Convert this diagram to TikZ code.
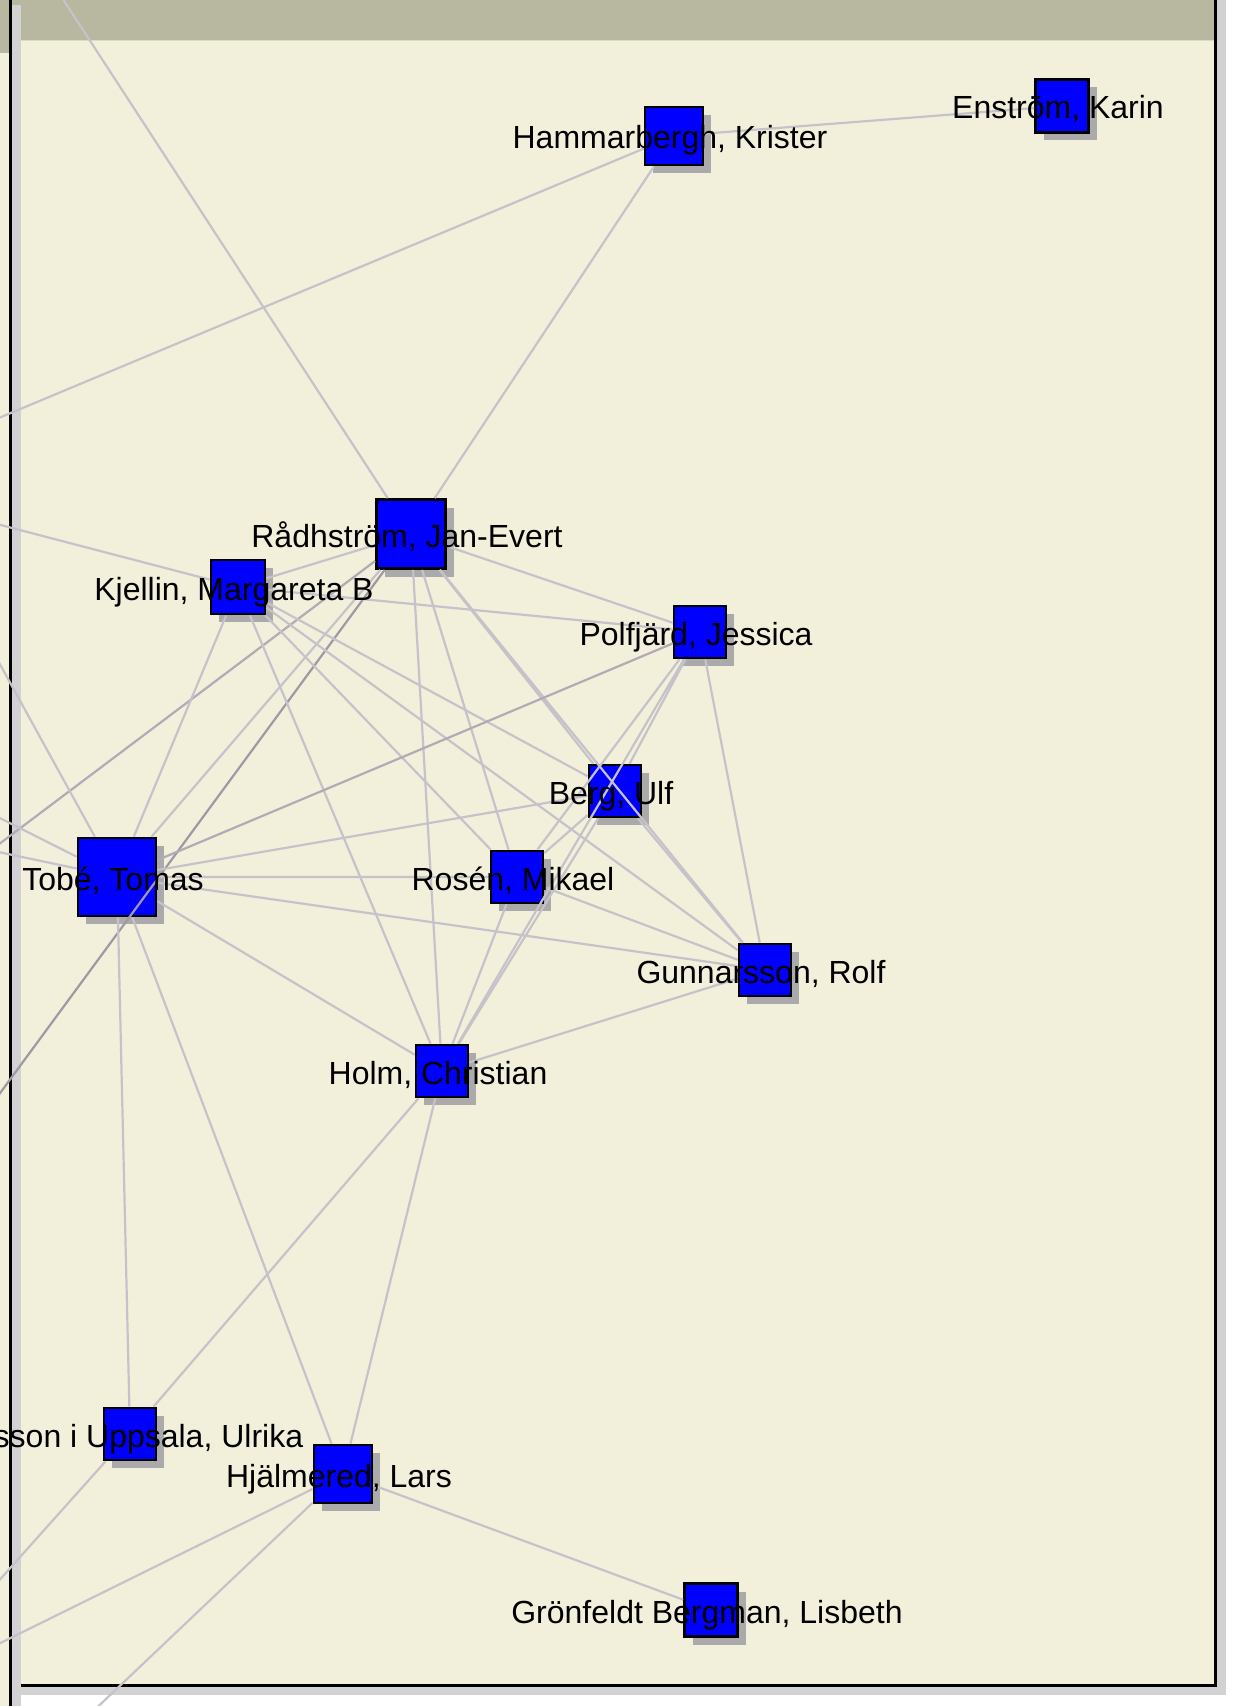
\documentclass[tikz,border=0pt]{standalone}
\usepackage{fontspec}
\setmainfont{Liberation Sans}
\usepackage{xcolor}
\usetikzlibrary{shadows}
\definecolor{panelbg}{HTML}{F2F0DA}
\definecolor{bandbg}{HTML}{B8B8A0}
\definecolor{stripgray}{HTML}{D2D2D2}
\definecolor{nodeblue}{HTML}{0000FF}
\definecolor{shadegray}{HTML}{AAAAAA}
\definecolor{tiegray}{HTML}{C6C2CA}
\definecolor{midtiegray}{HTML}{B2AAB6}
\definecolor{darktiegray}{HTML}{A098A4}

\begin{document}
\begin{tikzpicture}[
    x=0.5pt, y=-0.5pt,
    person/.style={rectangle, draw=black, line width=1.4pt, fill=nodeblue,
        inner sep=0pt, minimum size=26pt,
        general shadow={fill=shadegray, shadow xshift=4pt, shadow yshift=-4pt}},
    tie/.style={draw=tiegray, line width=1.1pt},
    mid tie/.style={draw=midtiegray, line width=1.1pt},
    dark tie/.style={draw=darktiegray, line width=1.1pt},
    nametag/.style={anchor=base, inner sep=0pt, xshift=-2pt, yshift=-6.5pt,
        font=\fontsize{16}{19}\selectfont},
    frame line/.style={black, line width=1.3pt}
    ]
    \useasboundingbox (0,0) rectangle (1236,1706);
    \clip (0,0) rectangle (1236,1706);
    % Window
    \fill[white] (0,0) rectangle (1236,1706);
    \fill[panelbg] (0,0) rectangle (1214,1684);
    \fill[panelbg] (0,0) rectangle (10,1706);
    \fill[bandbg] (0,0) rectangle (1214,40);
    \fill[bandbg] (0,0) rectangle (10,53);
    \draw[color=panelbg!60!bandbg, line width=0.6pt] (21,40.5) -- (1214,40.5);
    \fill[stripgray] (1217,0) rectangle (1226,1695);
    \fill[stripgray] (21,1686) rectangle (1226,1695);
    \fill[stripgray] (12,5) rectangle (21,1706);
    \draw[frame line] (10.5,0) -- (10.5,1706);
    \draw[frame line] (1215.5,0) -- (1215.5,1685.5) -- (21,1685.5);

    % People
    \node[person, minimum size=29pt] (hamm) at (674,136) {};
    \node[person, minimum size=26.5pt] (enst) at (1062,106) {};
    \node[person, minimum size=34.5pt] (radh) at (411,534) {};
    \node[person, minimum size=27pt] (kjel) at (238,587) {};
    \node[person] (polf) at (700,632) {};
    \node[person] (berg) at (615,791) {};
    \node[person] (rose) at (517,877) {};
    \node[person, minimum size=39pt] (tobe) at (117,877) {};
    \node[person] (gunn) at (765,970) {};
    \node[person] (holm) at (442,1071) {};
    \node[person] (upps) at (130,1434) {};
    \node[person, minimum size=29pt] (hjal) at (343,1474) {};
    \node[person, minimum size=26.5pt] (gron) at (711,1610) {};

    % Ends of lines that leave the view
    \coordinate (radhTop) at (44,-30);
    \coordinate (hammOut) at (-30,430);
    \coordinate (kjelOut) at (-30,517);
    \coordinate (tobeOutA) at (-20,628);
    \coordinate (tobeOutB) at (-30,803);
    \coordinate (tobeOutC) at (-30,846);
    \coordinate (radhOutA) at (-30,866);
    \coordinate (radhOutB) at (-30,1134);
    \coordinate (uppsOut) at (-30,1613);
    \coordinate (hjalOutA) at (-30,1658);
    \coordinate (hjalOutB) at (67,1736);

    % Lines
    \draw[tie] (hamm) -- (enst) (hamm) -- (radh) (hamm) -- (hammOut);
    \draw[tie] (radh) -- (radhTop) (radh) -- (kjel) (radh) -- (polf)
        (radh) -- (berg) (radh) -- (gunn) (radh) -- (rose)
        (radh) -- (holm) (radh) -- (tobe);
    \draw[mid tie] (radh) -- (radhOutA);
    \draw[dark tie] (radh) -- (radhOutB);
    \draw[tie] (kjel) -- (kjelOut) (kjel) -- (polf) (kjel) -- (berg)
        (kjel) -- (rose) (kjel) -- (gunn) (kjel) -- (tobe) (kjel) -- (holm);
    \draw[mid tie] (polf) -- (tobe);
    \draw[tie] (polf) -- (rose) (polf) -- (holm) (polf) -- (gunn)
        (polf) -- (berg);
    \draw[tie] (berg) -- (tobe) (berg) -- (rose) (berg) -- (holm)
        (berg) -- (gunn);
    \draw[tie] (rose) -- (tobe) (rose) -- (gunn) (rose) -- (holm);
    \draw[tie] (gunn) -- (tobe) (gunn) -- (holm);
    \draw[tie] (tobe) -- (holm) (tobe) -- (upps) (tobe) -- (hjal)
        (tobe) -- (tobeOutA) (tobe) -- (tobeOutB) (tobe) -- (tobeOutC);
    \draw[tie] (holm) -- (upps) (holm) -- (hjal);
    \draw[tie] (upps) -- (uppsOut);
    \draw[tie] (hjal) -- (gron) (hjal) -- (hjalOutA) (hjal) -- (hjalOutB);

    % Names
    \node[nametag] at (hamm) {Hammarbergh, Krister};
    \node[nametag] at (enst) {Enström, Karin};
    \node[nametag] at (radh) {Rådhström, Jan-Evert};
    \node[nametag] at (kjel) {Kjellin, Margareta B};
    \node[nametag] at (polf) {Polfjärd, Jessica};
    \node[nametag] at (berg) {Berg, Ulf};
    \node[nametag] at (rose) {Rosén, Mikael};
    \node[nametag] at (tobe) {Tobé, Tomas};
    \node[nametag] at (gunn) {Gunnarsson, Rolf};
    \node[nametag] at (holm) {Holm, Christian};
    \node[nametag, xshift=-3pt] at (upps) {Karlsson i Uppsala, Ulrika};
    \node[nametag] at (hjal) {Hjälmered, Lars};
    \node[nametag] at (gron) {Grönfeldt Bergman, Lisbeth};
\end{tikzpicture}
\end{document}
